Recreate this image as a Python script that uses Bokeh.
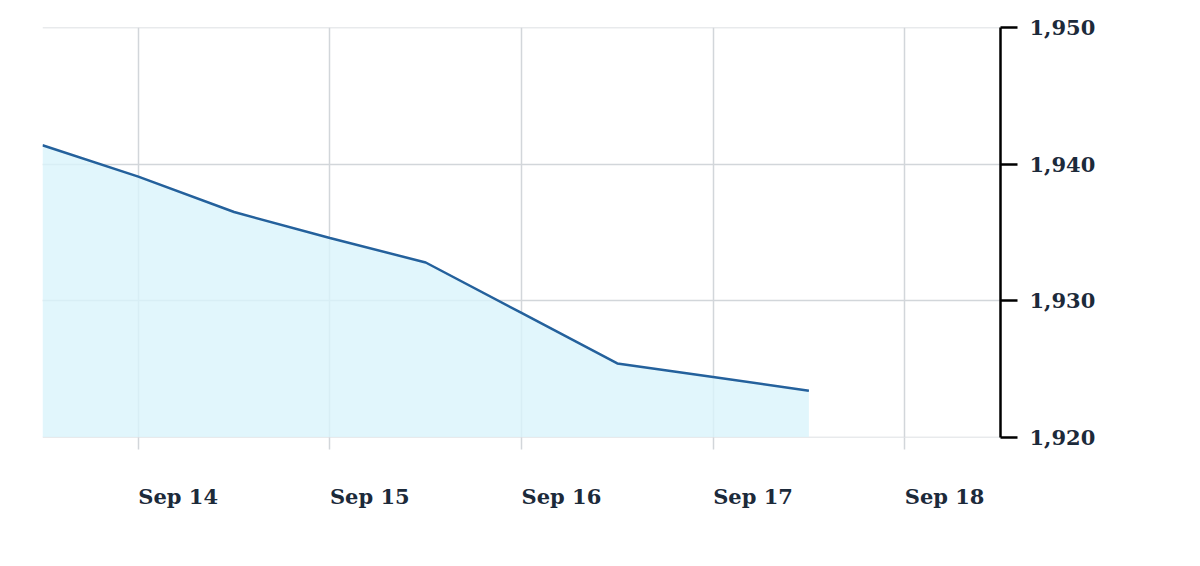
from datetime import datetime, timedelta
from bokeh.plotting import figure
from bokeh.models import (ColumnDataSource, LinearAxis, FixedTicker,
                          DatetimeTickFormatter, NumeralTickFormatter, Range1d)
from bokeh.embed import file_html
from bokeh.resources import INLINE

# Data (12-hour samples)
times = ["2023-09-13 12:00", "2023-09-14 00:00", "2023-09-14 12:00", "2023-09-15 00:00",
         "2023-09-15 12:00", "2023-09-16 00:00", "2023-09-16 12:00", "2023-09-17 00:00",
         "2023-09-17 12:00"]
prices = [1941.4, 1939.1, 1936.5, 1934.6, 1932.8, 1929.1, 1925.4, 1924.4, 1923.4]
x_tick_dates = ["2023-09-14", "2023-09-15", "2023-09-16", "2023-09-17", "2023-09-18"]
y_ticks = [1920, 1930, 1940, 1950]
x_start = "2023-09-13 12:00"
x_end = "2023-09-18 12:00"

# label text is drawn to the right of each day line (left-aligned look)
LABEL_SHIFT = timedelta(hours=5)

FMT = "%Y-%m-%d %H:%M"
xs = [datetime.strptime(t, FMT) for t in times]
base = [y_ticks[0]] * len(xs)
src = ColumnDataSource(dict(x=xs, y=prices, base=base))

def ms(d):
    return (d - datetime(1970, 1, 1)).total_seconds() * 1000.0

tick_days = [datetime.strptime(d, "%Y-%m-%d") for d in x_tick_dates]
tick_ms = [ms(d) for d in tick_days]
label_ms = [ms(d + LABEL_SHIFT) for d in tick_days]

EPS = 0.03
p = figure(width=1184, height=550, x_axis_type="datetime", y_axis_location=None,
           output_backend="svg", toolbar_location=None,
           x_range=Range1d(datetime.strptime(x_start, FMT), datetime.strptime(x_end, FMT)),
           y_range=Range1d(y_ticks[0] - EPS, y_ticks[-1] + EPS),
           min_border_left=42, min_border_right=184, min_border_top=27, min_border_bottom=113)
p.outline_line_color = None
p.background_fill_color = "white"
p.border_fill_color = "white"

p.varea(x="x", y1="base", y2="y", source=src, fill_color="#d9f4fb", fill_alpha=0.8)
p.line(x="x", y="y", source=src, line_color="#24619c", line_width=2.5)

FONT = "DejaVu Serif"
TXT = "#1c2a3a"
GRID = "#d2d6da"

# x axis: labels at shifted positions, gray minor ticks under the day lines
xa = p.xaxis[0]
xa.ticker = FixedTicker(ticks=label_ms, minor_ticks=tick_ms)
xa.formatter = DatetimeTickFormatter(days="%b %d", months="%b %d",
                                     hours="%b %d", hourmin="%b %d")
xa.axis_line_color = None
xa.major_tick_line_color = None
xa.major_tick_out = 0
xa.major_tick_in = 0
xa.minor_tick_line_color = GRID
xa.minor_tick_line_width = 1.5
xa.minor_tick_out = 12
xa.minor_tick_in = 0
xa.major_label_standoff = 34
xa.major_label_text_font = FONT
xa.major_label_text_font_style = "bold"
xa.major_label_text_font_size = "21px"
xa.major_label_text_color = TXT

ya = LinearAxis(ticker=FixedTicker(ticks=y_ticks), formatter=NumeralTickFormatter(format="0,0"))
ya.axis_line_color = "black"
ya.axis_line_width = 2.5
ya.major_tick_line_color = "black"
ya.major_tick_line_width = 2.5
ya.major_tick_out = 17
ya.major_tick_in = 0
ya.minor_tick_line_color = None
ya.major_label_standoff = 12
ya.major_label_text_font = FONT
ya.major_label_text_font_style = "bold"
ya.major_label_text_font_size = "21px"
ya.major_label_text_color = TXT
p.add_layout(ya, "right")

p.xgrid.ticker = FixedTicker(ticks=tick_ms)
p.xgrid.grid_line_color = GRID
p.xgrid.grid_line_width = 1.5
p.ygrid.ticker = FixedTicker(ticks=y_ticks)
p.ygrid.grid_line_color = GRID
p.ygrid.grid_line_width = 1.5

open("out.html", "w").write(file_html(p, INLINE))
